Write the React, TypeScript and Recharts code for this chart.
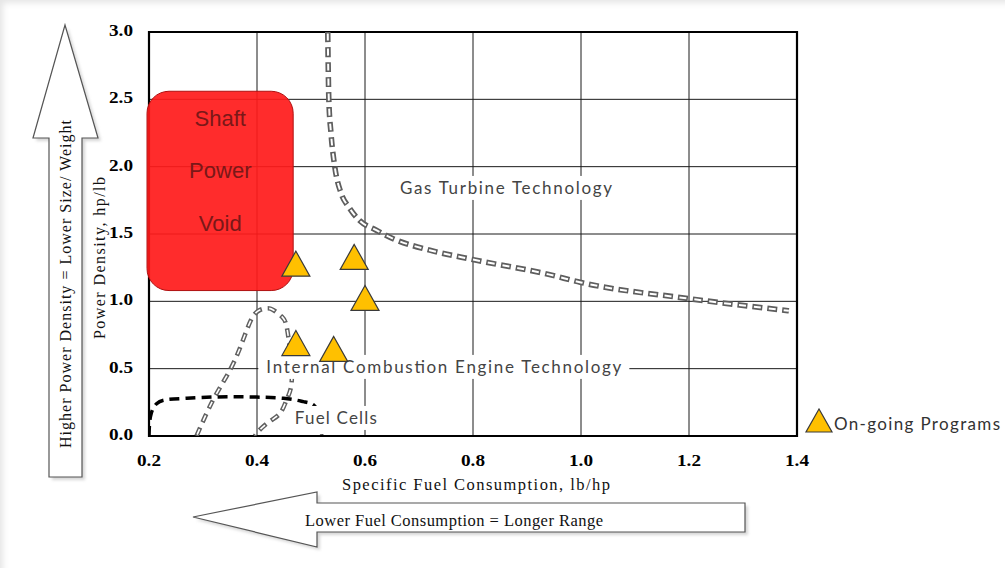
import React from 'react';
import {
  ComposedChart, Line, Scatter, XAxis, YAxis, CartesianGrid, ReferenceArea, ReferenceDot, Legend, Label,
} from 'recharts';

// axes
const xTicks = [0.2, 0.4, 0.6, 0.8, 1.0, 1.2, 1.4];
const yTicks = [0, 0.5, 1.0, 1.5, 2.0, 2.5, 3.0];

// on-going programs (sfc lb/hp, power density hp/lb)
const programSfc = [0.472, 0.58, 0.6, 0.472, 0.542];
const programDensity = [1.28, 1.33, 1.025, 0.69, 0.647];

// gas turbine technology boundary
const gasTurbineSfc = [0.531, 0.533, 0.537, 0.544, 0.556, 0.57, 0.59, 0.62, 0.655, 0.72, 0.8, 0.94, 1.0, 1.2, 1.385];
const gasTurbineDensity = [3.0, 2.5, 2.25, 2.0, 1.8, 1.7, 1.6, 1.53, 1.46, 1.38, 1.31, 1.2, 1.14, 1.02, 0.93];

// internal combustion engine lobe
const iceSfc = [0.288, 0.319, 0.35, 0.372, 0.39, 0.405, 0.418, 0.43, 0.446, 0.455, 0.462, 0.464, 0.455, 0.443, 0.424, 0.405, 0.396];
const iceDensity = [0.0, 0.27, 0.49, 0.69, 0.87, 0.935, 0.948, 0.936, 0.886, 0.81, 0.6, 0.39, 0.27, 0.17, 0.11, 0.045, 0.0];

// fuel cells boundary
const fuelCellSfc = [0.2, 0.203, 0.214, 0.233, 0.27, 0.325, 0.387, 0.449, 0.486, 0.505, 0.515, 0.52];
const fuelCellDensity = [0.0, 0.15, 0.24, 0.27, 0.28, 0.29, 0.29, 0.28, 0.255, 0.23, 0.15, 0.0];

// shaft power void region
const voidSfc = [0.2, 0.467];
const voidDensity = [1.08, 2.56];
const voidWords = ['Shaft', 'Power', 'Void'];
const voidWordSfc = 0.332;
const voidWordDensity = [2.362, 1.975, 1.582];

// region labels
const regionLabels = ['Gas Turbine Technology', 'Internal Combustion Engine Technology', 'Fuel Cells'];
const regionLabelSfc = [0.861, 0.746, 0.546];
const regionLabelDensity = [1.842, 0.513, 0.134];
const regionLabelWidth = [212, 355, 82];

const toPoints = (xs: number[], ys: number[]) => xs.map((x, i) => ({ x, y: ys[i] }));
const programs = toPoints(programSfc, programDensity);
const gasTurbine = toPoints(gasTurbineSfc, gasTurbineDensity);
const ice = toPoints(iceSfc, iceDensity);
const fuelCells = toPoints(fuelCellSfc, fuelCellDensity);

const SANS = 'Lato, "Liberation Sans", sans-serif';
const SERIF = '"Liberation Serif", "Times New Roman", serif';
const GOLD = '#FFC000';

function Triangle(props: any) {
  const { cx, cy } = props;
  if (cx == null || cy == null) return null;
  const w = 28, h = 25;
  return (
    <polygon
      points={`${cx},${cy - h / 2} ${cx - w / 2},${cy + h / 2} ${cx + w / 2},${cy + h / 2}`}
      fill={GOLD}
      stroke="#3a3a3a"
      strokeWidth={1.2}
    />
  );
}

function TextBox({ cx, cy, text, width }: any) {
  return (
    <g>
      <rect x={cx - width / 2 - 8} y={cy - 12} width={width + 16} height={24} fill="#fff" />
      <text x={cx} y={cy + 6} textAnchor="middle" fontFamily={SANS} fontSize={17} fill="#444"
        textLength={width} lengthAdjust="spacing">
        {text}
      </text>
    </g>
  );
}

function VoidWord({ cx, cy, text }: any) {
  return (
    <text x={cx} y={cy + 8} textAnchor="middle" fontFamily='"Liberation Sans", Arial, sans-serif'
      fontSize={22} fill="#7a1818">
      {text}
    </text>
  );
}

function XTick({ x, y, payload }: any) {
  return (
    <text x={x} y={y + 14} textAnchor="middle" fontFamily={SERIF} fontWeight="bold" fontSize={16}
      fill="#000" textLength={24} lengthAdjust="spacingAndGlyphs">
      {payload.value.toFixed(1)}
    </text>
  );
}

function YTick({ x, y, payload }: any) {
  return (
    <text x={x} y={y + 4} textAnchor="end" fontFamily={SERIF} fontWeight="bold" fontSize={16}
      fill="#000" textLength={24} lengthAdjust="spacingAndGlyphs">
      {payload.value.toFixed(1)}
    </text>
  );
}

function LegendContent() {
  return (
    <div style={{ position: 'absolute', left: 804, top: 408, whiteSpace: 'nowrap' }}>
      <svg width={200} height={28}>
        <polygon points="15,1 2,24 28,24" fill={GOLD} stroke="#3a3a3a" strokeWidth={1.2} />
        <text x={30} y={22} fontFamily={SANS} fontSize={17} fill="#333" textLength={166} lengthAdjust="spacing">
          On-going Programs
        </text>
      </svg>
    </div>
  );
}

export default function App() {
  return (
    <div style={{ position: 'absolute', left: 0, top: 0, width: 1005, height: 568, background: '#fff', boxShadow: 'inset 6px 6px 6px -3px #e6e6e6' }}>
      <ComposedChart width={1005} height={568} margin={{ top: 32, right: 208, bottom: 102, left: 79 }}>
        <CartesianGrid stroke="#1a1a1a" strokeWidth={1} />
        <XAxis type="number" dataKey="x" domain={[0.2, 1.4]} ticks={xTicks} axisLine={false} tickLine={false}
          height={30} tick={<XTick />} tickMargin={10} allowDataOverflow>
          <Label content={({ viewBox }: any) => (
            <text x={viewBox.x + viewBox.width / 2 + 3} y={viewBox.y + 54} textAnchor="middle" fontFamily={SERIF}
              fontSize={16.5} fill="#111" textLength={268} lengthAdjust="spacing">
              Specific Fuel Consumption, lb/hp
            </text>
          )} />
        </XAxis>
        <YAxis type="number" dataKey="y" domain={[0, 3]} ticks={yTicks} axisLine={false} tickLine={false}
          width={70} tick={<YTick />} tickMargin={10} allowDataOverflow>
          <Label content={({ viewBox }: any) => {
            const cx = viewBox.x + 26;
            const cy = viewBox.y + viewBox.height / 2 + 24;
            return (
              <text x={cx} y={cy} transform={`rotate(-90 ${cx} ${cy})`} textAnchor="middle" fontFamily={SERIF}
                fontSize={16} fill="#111" textLength={162} lengthAdjust="spacing">
                Power Density, hp/lb
              </text>
            );
          }} />
        </YAxis>

        <ReferenceArea x1={0.2} x2={1.4} y1={0} y2={3} fill="none" stroke="#000" strokeWidth={2.2} ifOverflow="visible" />

        <Line data={gasTurbine} dataKey="y" type="monotone" stroke="#5e5e5e" strokeWidth={5.5} strokeDasharray="10 5"
          dot={false} legendType="none" isAnimationActive={false} />
        <Line data={gasTurbine} dataKey="y" type="monotone" stroke="#fff" strokeWidth={2} strokeDasharray="7 8"
          strokeDashoffset={-1.5} dot={false} legendType="none" isAnimationActive={false} />

        <Line data={ice} dataKey="y" type="natural" stroke="#606060" strokeWidth={4.5} strokeDasharray="9 6"
          dot={false} legendType="none" isAnimationActive={false} />
        <Line data={ice} dataKey="y" type="natural" stroke="#fff" strokeWidth={1.6} strokeDasharray="6 9"
          strokeDashoffset={-1.5} dot={false} legendType="none" isAnimationActive={false} />

        <Line data={fuelCells} dataKey="y" type="natural" stroke="#000" strokeWidth={3.5} strokeDasharray="10 6"
          dot={false} legendType="none" isAnimationActive={false} />

        <ReferenceArea x1={voidSfc[0]} x2={voidSfc[1]} y1={voidDensity[0]} y2={voidDensity[1]} ifOverflow="visible"
          shape={(p: any) => (
            <rect x={p.x - 2} y={p.y} width={p.width + 2} height={p.height} rx={22} ry={22}
              fill="#ff1a1a" fillOpacity={0.92} stroke="#b01010" strokeWidth={1} />
          )} />
        {voidWords.map((w, i) => (
          <ReferenceDot key={w} x={voidWordSfc} y={voidWordDensity[i]} r={0} ifOverflow="visible"
            shape={(p: any) => <VoidWord {...p} text={w} />} />
        ))}

        {regionLabels.map((t, i) => (
          <ReferenceDot key={t} x={regionLabelSfc[i]} y={regionLabelDensity[i]} r={0} ifOverflow="visible"
            shape={(p: any) => <TextBox {...p} text={t} width={regionLabelWidth[i]} />} />
        ))}

        <Scatter name="On-going Programs" data={programs} dataKey="y" shape={<Triangle />} isAnimationActive={false} />

        <Legend verticalAlign="top" align="left" layout="horizontal" content={<LegendContent />}
          wrapperStyle={{ left: 0, top: 0, width: 0, height: 0 }} />
      </ComposedChart>

      <svg width={1005} height={568} style={{ position: 'absolute', left: 0, top: 0, pointerEvents: 'none' }}>
        <defs>
          <filter id="sh" x="-20%" y="-20%" width="140%" height="140%">
            <feGaussianBlur stdDeviation="1.5" />
          </filter>
        </defs>
        <polygon points="65,25 98,138 82,138 82,477 49,477 49,138 33,138" fill="#d6d6d6" transform="translate(3 3)" filter="url(#sh)" />
        <polygon points="65,25 98,138 82,138 82,477 49,477 49,138 33,138" fill="#fff" stroke="#555" strokeWidth={1.2} />
        <text x={71} y={284} transform="rotate(-90 71 284)" textAnchor="middle" fontFamily={SERIF} fontSize={16}
          fill="#111" textLength={328} lengthAdjust="spacing">
          Higher Power Density = Lower Size/ Weight
        </text>
        <polygon points="193,517 317,492 317,503 745,503 745,532 317,532 317,547" fill="#d6d6d6" transform="translate(3 3)" filter="url(#sh)" />
        <polygon points="193,517 317,492 317,503 745,503 745,532 317,532 317,547" fill="#fff" stroke="#555" strokeWidth={1.2} />
        <text x={454} y={526} textAnchor="middle" fontFamily={SERIF} fontSize={16.5} fill="#111"
          textLength={298} lengthAdjust="spacing">
          Lower Fuel Consumption = Longer Range
        </text>
      </svg>
    </div>
  );
}
